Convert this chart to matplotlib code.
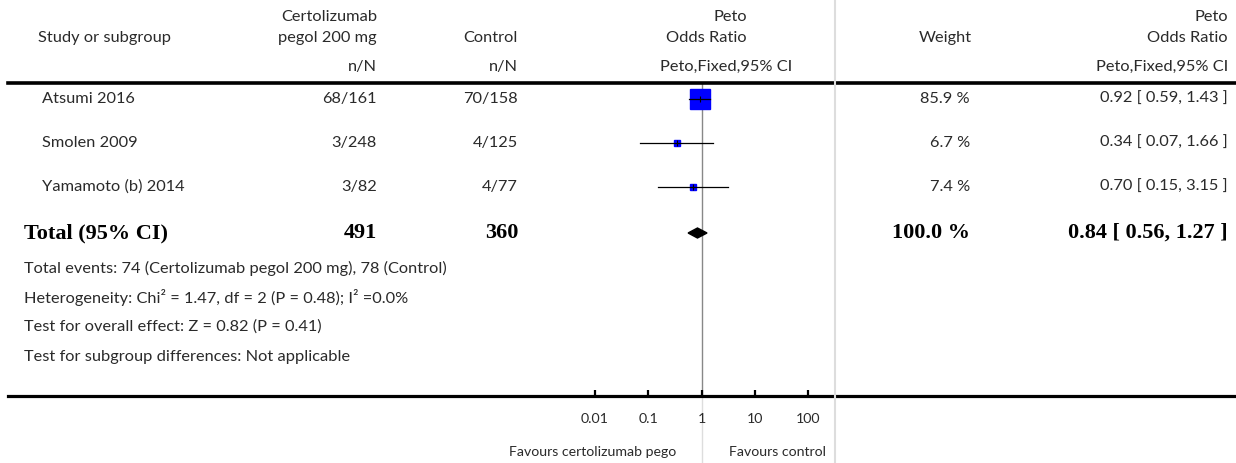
import matplotlib
matplotlib.use("Agg")
import matplotlib.pyplot as plt
from matplotlib.lines import Line2D
from matplotlib.patches import Polygon

# data
studies = ["Atsumi 2016", "Smolen 2009", "Yamamoto (b) 2014"]
cert_nN = ["68/161", "3/248", "3/82"]
ctrl_nN = ["70/158", "4/125", "4/77"]
weights = [85.9, 6.7, 7.4]
odds = [0.92, 0.34, 0.70]
ci_lo = [0.59, 0.07, 0.15]
ci_hi = [1.43, 1.66, 3.15]
total_cert, total_ctrl = 491, 360
total_or, total_lo, total_hi = 0.84, 0.56, 1.27
footer = [
    "Total events: 74 (Certolizumab pegol 200 mg), 78 (Control)",
    "Heterogeneity: Chi² = 1.47, df = 2 (P = 0.48); I² =0.0%",
    "Test for overall effect: Z = 0.82 (P = 0.41)",
    "Test for subgroup differences: Not applicable",
]
ticks = [0.01, 0.1, 1, 10, 100]
tick_labels = ["0.01", "0.1", "1", "10", "100"]

W, H = 1236, 463
fig = plt.figure(figsize=(W / 100, H / 100), dpi=100)
plt.rcParams['font.family'] = ['Lato', 'DejaVu Sans']

SANS = dict(fontsize=11.8, color='#2a2a2a')
SMALL = dict(fontsize=10.2, color='#2a2a2a')
BOLD = dict(fontsize=16, fontweight='bold', family='Liberation Serif', color='black')


def fx(x):
    return x / W


def fy(y):
    return 1 - y / H


def txt(x, y, s, ha='left', **kw):
    fig.text(fx(x), fy(y), s, ha=ha, va='center', **kw)


# header
txt(38, 38, "Study or subgroup", **SANS)
txt(377, 17, "Certolizumab", ha='right', **SANS)
txt(377, 38, "pegol 200 mg", ha='right', **SANS)
txt(518, 38, "Control", ha='right', **SANS)
txt(377, 67, "n/N", ha='right', **SANS)
txt(518, 67, "n/N", ha='right', **SANS)
txt(747, 17, "Peto", ha='right', **SANS)
txt(747, 38, "Odds Ratio", ha='right', **SANS)
txt(726, 67, "Peto,Fixed,95% CI", ha='center', **SANS)
txt(972, 38, "Weight", ha='right', **SANS)
txt(1228, 17, "Peto", ha='right', **SANS)
txt(1228, 38, "Odds Ratio", ha='right', **SANS)
txt(1228, 67, "Peto,Fixed,95% CI", ha='right', **SANS)

# rows
row_y = [99, 143, 187]
for i, y in enumerate(row_y):
    txt(42, y, studies[i], **SANS)
    txt(377, y, cert_nN[i], ha='right', **SANS)
    txt(518, y, ctrl_nN[i], ha='right', **SANS)
    txt(970, y, f"{weights[i]:.1f} %", ha='right', **SANS)
    txt(1228, y, f"{odds[i]:.2f} [ {ci_lo[i]:.2f}, {ci_hi[i]:.2f} ]", ha='right', **SANS)

tot_y = 233
txt(24, tot_y, "Total (95% CI)", **BOLD)
txt(377, tot_y, str(total_cert), ha='right', **BOLD)
txt(518, tot_y, str(total_ctrl), ha='right', **BOLD)
txt(970, tot_y, f"{sum(weights):.1f} %", ha='right', **BOLD)
txt(1228, tot_y, f"{total_or:.2f} [ {total_lo:.2f}, {total_hi:.2f} ]", ha='right', **BOLD)

for i, s in enumerate(footer):
    txt(24, 268 + i * 29.5, s, **SANS)

# rules and separator
fig.add_artist(Line2D([fx(8), 1], [fy(83), fy(83)], color='black', lw=2.6))
fig.add_artist(Line2D([fx(8), 1], [fy(396), fy(396)], color='black', lw=2.3))
fig.add_artist(Line2D([fx(835), fx(835)], [0, 1], color='#dddddd', lw=1.5))

# forest panel: 0.01 at x=595, 100 at x=808
ax = fig.add_axes([fx(595), fy(396), fx(808 - 595), (396 - 84) / H])
ax.set_xscale('log')
ax.set_xlim(0.01, 100)
ax.set_ylim(396, 84)
for sp in ax.spines.values():
    sp.set_visible(False)
ax.patch.set_alpha(0)
ax.set_yticks([])
ax.set_xticks(ticks)
ax.set_xticklabels(tick_labels, **SMALL)
ax.minorticks_off()
ax.tick_params(axis='x', direction='in', length=4, width=1.6, pad=12, color='black')

ax.axvline(1, color='#888888', lw=1.0, zorder=1)
ax.plot([1, 1], [396, 463], color='#dddddd', lw=1.0, clip_on=False, zorder=1)

for i, y in enumerate(row_y):
    ms = max(5.0, 14.4 * (weights[i] / max(weights)) ** 0.5)
    ax.plot([odds[i]], [y], marker='s', ms=ms, color='#0000ff', mec='#0000ff', zorder=2)
    ax.plot([ci_lo[i], ci_hi[i]], [y, y], color='black', lw=0.9, zorder=3)
    ax.plot([odds[i]], [y], marker='|', ms=4, color='black', mew=0.8, zorder=3)

diamond = Polygon([(total_lo, tot_y), (total_or, tot_y - 5), (total_hi, tot_y), (total_or, tot_y + 5)],
                  closed=True, facecolor='black', edgecolor='black', zorder=3)
ax.add_patch(diamond)

fig.text(fx(676), fy(452), "Favours certolizumab pego", ha='right', va='center', **SMALL)
fig.text(fx(729), fy(452), "Favours control", ha='left', va='center', **SMALL)

fig.savefig("out.png", dpi=100)
